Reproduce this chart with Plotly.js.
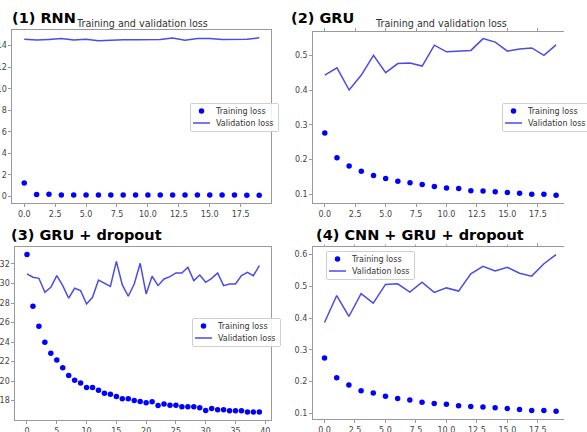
<!DOCTYPE html>
<html>
<head>
<meta charset="utf-8">
<script src="https://cdn.plot.ly/plotly-3.0.1.min.js"></script>
<style>
  html, body { margin: 0; padding: 0; background: #fff; }
  #chart { width: 587px; height: 432px; }
</style>
</head>
<body>
<div id="chart"></div>
<script>
// Epoch indices
const epochs20 = [0, 1, 2, 3, 4, 5, 6, 7, 8, 9, 10, 11, 12, 13, 14, 15, 16, 17, 18, 19];
const epochs40 = [0, 1, 2, 3, 4, 5, 6, 7, 8, 9, 10, 11, 12, 13, 14, 15, 16, 17, 18, 19,
                  20, 21, 22, 23, 24, 25, 26, 27, 28, 29, 30, 31, 32, 33, 34, 35, 36, 37, 38, 39];

// (1) RNN
const rnnTrain = [1.25, 0.20, 0.21, 0.15, 0.14, 0.14, 0.14, 0.14, 0.14, 0.14,
                  0.14, 0.14, 0.14, 0.14, 0.14, 0.14, 0.14, 0.14, 0.13, 0.13];
const rnnVal = [14.60, 14.52, 14.58, 14.65, 14.52, 14.60, 14.45, 14.52, 14.55, 14.55,
                14.56, 14.56, 14.70, 14.50, 14.65, 14.65, 14.57, 14.57, 14.60, 14.72];

// (2) GRU
const gruTrain = [0.276, 0.205, 0.181, 0.166, 0.154, 0.145, 0.137, 0.133, 0.128, 0.122,
                  0.118, 0.116, 0.110, 0.109, 0.107, 0.105, 0.103, 0.100, 0.100, 0.097];
const gruVal = [0.443, 0.464, 0.400, 0.443, 0.500, 0.450, 0.476, 0.478, 0.469, 0.529,
                0.510, 0.512, 0.514, 0.548, 0.538, 0.512, 0.518, 0.521, 0.500, 0.530];

// (3) GRU + dropout
const dropTrain = [32.96, 27.67, 25.62, 23.98, 22.86, 22.17, 21.36, 20.57, 20.09, 19.79,
                   19.34, 19.34, 19.07, 18.76, 18.66, 18.42, 18.18, 18.18, 18.01, 17.91,
                   17.77, 17.88, 17.50, 17.64, 17.53, 17.53, 17.36, 17.36, 17.36, 17.26,
                   16.99, 17.19, 17.06, 17.06, 16.95, 16.95, 16.95, 16.82, 16.82, 16.82];
const dropVal = [30.98, 30.64, 30.53, 29.10, 29.60, 30.80, 29.78, 28.49, 29.51, 29.27,
                 27.90, 28.59, 30.36, 30.06, 29.71, 32.27, 29.85, 28.69, 29.95, 32.07,
                 28.93, 30.74, 29.78, 30.46, 30.70, 31.08, 31.08, 31.66, 30.29, 30.87,
                 30.12, 30.53, 31.08, 29.78, 29.95, 29.95, 30.80, 31.15, 30.80, 31.83];

// (4) CNN + GRU + dropout
const cnnTrain = [0.274, 0.212, 0.189, 0.171, 0.164, 0.154, 0.147, 0.142, 0.135, 0.131,
                  0.129, 0.124, 0.122, 0.120, 0.118, 0.115, 0.112, 0.109, 0.109, 0.107];
const cnnVal = [0.386, 0.471, 0.405, 0.477, 0.447, 0.506, 0.508, 0.482, 0.513, 0.481,
                0.495, 0.485, 0.539, 0.563, 0.548, 0.560, 0.541, 0.532, 0.571, 0.600];

// Tick labels
const xTicks20 = [0, 2.5, 5, 7.5, 10, 12.5, 15, 17.5];
const xTickText20 = ['0.0', '2.5', '5.0', '7.5', '10.0', '12.5', '15.0', '17.5'];
const xTicks40 = [0, 5, 10, 15, 20, 25, 30, 35, 40];
const yTicksRnn = [0, 2, 4, 6, 8, 10, 12, 14];
const yTicksGru = [0.1, 0.2, 0.3, 0.4, 0.5];
const yTickTextGru = ['0.1', '0.2', '0.3', '0.4', '0.5'];
const yTicksDrop = [16, 18, 20, 22, 24, 26, 28, 30, 32];
const yTicksCnn = [0.1, 0.2, 0.3, 0.4, 0.5, 0.6];
const yTickTextCnn = ['0.1', '0.2', '0.3', '0.4', '0.5', '0.6'];

const W = 587, H = 432;
const px = v => v / W;            // horizontal pixel -> paper fraction
const py = v => 1 - v / H;        // vertical pixel -> paper fraction

const dotColor = '#0000ff';
const lineColor = 'rgb(75,75,232)';
const frameColor = '#9a9a9a';
const tickFont = { family: 'DejaVu Sans', size: 8, color: '#444' };

function pair(n, x, train, val) {
  const s = n === 1 ? '' : String(n);
  return [
    { x: x, y: train, type: 'scatter', mode: 'markers', name: 'Training loss',
      marker: { color: dotColor, size: 5.5 },
      xaxis: 'x' + s, yaxis: 'y' + s, legend: 'legend' + s },
    { x: x, y: val, type: 'scatter', mode: 'lines', name: 'Validation loss',
      line: { color: lineColor, width: 1.5 },
      xaxis: 'x' + s, yaxis: 'y' + s, legend: 'legend' + s }
  ];
}

const data = [].concat(
  pair(1, epochs20, rnnTrain, rnnVal),
  pair(2, epochs20, gruTrain, gruVal),
  pair(3, epochs40, dropTrain, dropVal),
  pair(4, epochs20, cnnTrain, cnnVal)
);

function axis(domain, range, vals, text, anchor, mirror) {
  return {
    domain: domain, range: range, anchor: anchor,
    tickmode: 'array', tickvals: vals, ticktext: text,
    ticks: 'outside', ticklen: 3, tickwidth: 1, tickcolor: frameColor,
    showline: true, linecolor: frameColor, linewidth: 1, mirror: mirror,
    showgrid: false, zeroline: false, tickfont: tickFont, automargin: false
  };
}

// Legend boxes: top-left corner in pixels
const legendBoxes = {
  legend: [190, 103],
  legend2: [502, 103],
  legend3: [192, 318],
  legend4: [326, 251]
};

function legendAt(id) {
  const [left, top] = legendBoxes[id];
  return {
    x: px(left), y: py(top), xanchor: 'left', yanchor: 'top',
    bgcolor: 'rgba(255,255,255,0.85)', bordercolor: '#d0d0d0', borderwidth: 1,
    font: { family: 'DejaVu Sans', size: 8, color: '#333' },
    itemwidth: 30, tracegroupgap: 0
  };
}

function bold(text, left, cy) {
  return {
    text: text, xref: 'paper', yref: 'paper', x: px(left), y: py(cy),
    xanchor: 'left', yanchor: 'middle', showarrow: false,
    font: { family: 'DejaVu Sans', size: 14.5, color: '#000', weight: 'bold' },
    bgcolor: '#fff'
  };
}
function small(text, cx, cy) {
  return {
    text: text, xref: 'paper', yref: 'paper', x: px(cx), y: py(cy),
    xanchor: 'center', yanchor: 'middle', showarrow: false,
    font: { family: 'DejaVu Sans', size: 9.6, color: '#333' }
  };
}

const layout = {
  width: W, height: H,
  margin: { l: 0, r: 0, t: 0, b: 0 },
  paper_bgcolor: '#fff', plot_bgcolor: '#fff',
  showlegend: true,
  // (1) RNN
  xaxis: axis([px(13), px(282)], [-0.95, 19.95], xTicks20, xTickText20, 'y', true),
  yaxis: axis([py(203), py(30)], [-0.6, 15.45], yTicksRnn, yTicksRnn.map(String), 'x', true),
  // (2) GRU
  xaxis2: axis([px(326), 1], [-0.95, 19.65], xTicks20, xTickText20, 'y2', 'ticks'),
  yaxis2: axis([py(203), py(32)], [0.0746, 0.567], yTicksGru, yTickTextGru, 'x2', false),
  // (3) GRU + dropout
  xaxis3: axis([px(16), px(282)], [-1.95, 40.95], xTicks40, xTicks40.map(String), 'y3', true),
  yaxis3: axis([py(420), py(246.7)], [16.01, 33.77], yTicksDrop, yTicksDrop.map(String), 'x3', true),
  // (4) CNN + GRU + dropout
  xaxis4: axis([px(325.7), 1], [-0.95, 19.65], xTicks20, xTickText20, 'y4', 'ticks'),
  yaxis4: axis([py(419), py(246.7)], [0.0823, 0.6247], yTicksCnn, yTickTextCnn, 'x4', false),
  legend: legendAt('legend'),
  legend2: legendAt('legend2'),
  legend3: legendAt('legend3'),
  legend4: legendAt('legend4'),
  annotations: [
    small('Training and validation loss', 147.5, 23.5),
    small('Training and validation loss', 458.5, 23.5),
    bold('(1) RNN', 10, 18),
    bold('(2) GRU', 301, 17.5),
    bold('(3) GRU + dropout', 9, 235.5),
    bold('(4) CNN + GRU + dropout', 327, 235.5)
  ]
};

// Tighten the legend boxes: shorter handles, 12px row pitch, snug frame.
function compactLegends(gd) {
  Object.keys(legendBoxes).forEach(id => {
    try {
      const leg = gd.querySelector('g.infolayer > g.' + id) || gd.querySelector('g.' + id);
      if (!leg) return;
      const [left, top] = legendBoxes[id];
      leg.setAttribute('transform', 'translate(' + left + ',' + top + ')');
      let maxW = 0;
      leg.querySelectorAll('g.traces').forEach((item, i) => {
        item.setAttribute('transform', 'translate(0,' + (8 + 12 * i) + ')');
        item.querySelectorAll('text').forEach(t => {
          t.setAttribute('x', 26);
          t.querySelectorAll('tspan').forEach(s => { if (s.hasAttribute('x')) s.setAttribute('x', 26); });
          maxW = Math.max(maxW, t.getComputedTextLength());
        });
        item.querySelectorAll('path.js-line').forEach(p => p.setAttribute('d', 'M3,0h17'));
        item.querySelectorAll('path.scatterpts').forEach(p => p.setAttribute('transform', 'translate(11.5,0)'));
      });
      const bg = leg.querySelector('rect.bg');
      if (bg) {
        bg.setAttribute('x', 0.5);
        bg.setAttribute('y', 0.5);
        bg.setAttribute('width', Math.round(26 + maxW + 4));
        bg.setAttribute('height', 28);
        bg.setAttribute('rx', 2);
        bg.setAttribute('ry', 2);
      }
      const sb = leg.querySelector('g.scrollbox');
      if (sb) { sb.setAttribute('transform', 'translate(0,0)'); sb.removeAttribute('clip-path'); }
      const gr = leg.querySelector('g.groups');
      if (gr) gr.setAttribute('transform', 'translate(0,0)');
      leg.querySelectorAll('rect.scrollbar').forEach(r => r.remove());
    } catch (e) { /* leave this legend as drawn */ }
  });
}

const gd = document.getElementById('chart');
Plotly.newPlot(gd, data, layout, { staticPlot: true, displayModeBar: false })
  .then(() => compactLegends(gd));
</script>
</body>
</html>
